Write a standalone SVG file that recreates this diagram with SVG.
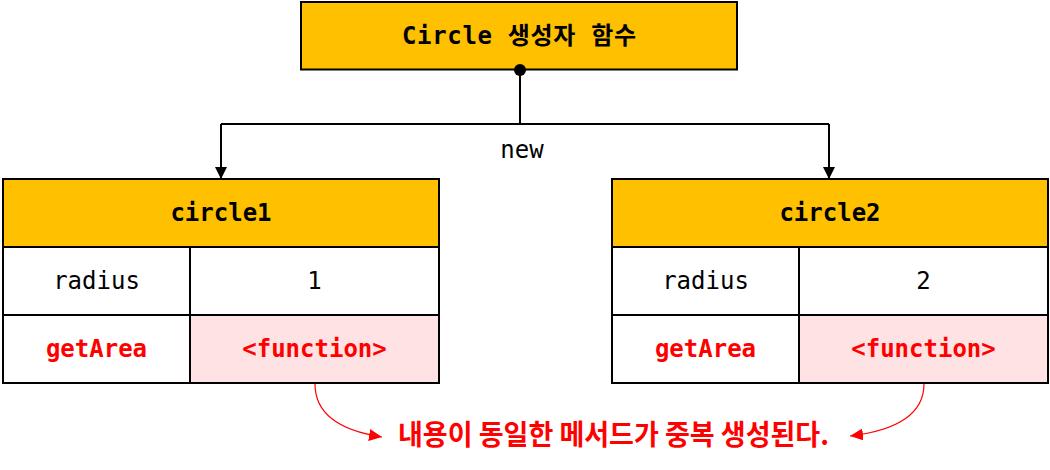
<svg xmlns="http://www.w3.org/2000/svg" width="1050" height="470" viewBox="0 0 1050 470">
  <defs>
    <marker id="arrowBlack" viewBox="0 0 12 12" refX="12" refY="6" markerWidth="12" markerHeight="12" markerUnits="userSpaceOnUse" orient="auto">
      <path d="M0,0 L12,6 L0,12 z" fill="#000"/>
    </marker>
    <marker id="arrowRed" viewBox="0 0 13 12" refX="13" refY="6" markerWidth="13" markerHeight="12" markerUnits="userSpaceOnUse" orient="auto">
      <path d="M0,0 L13,6 L0,12 z" fill="#ff0000"/>
    </marker>
    <style>
      .amber { fill: #ffc000; stroke: #000; stroke-width: 2; }
      .cell { fill: #ffffff; stroke: #000; stroke-width: 2; }
      .pink { fill: #ffe3e4; stroke: #000; stroke-width: 2; }
      .mono { font-family: "DejaVu Sans Mono", "Liberation Mono", "Noto Sans CJK KR", monospace; font-size: 24px; text-anchor: middle; }
      .bold { font-weight: bold; }
      .red { fill: #ff0000; }
      .conn { fill: none; stroke: #000; stroke-width: 2; }
      .rconn { fill: none; stroke: #ff0000; stroke-width: 1.2; }
      .note { font-family: "Noto Sans CJK KR", "Noto Sans", sans-serif; font-size: 28px; font-weight: bold; fill: #ff0000; text-anchor: middle; }
    </style>
  </defs>

  <g id="constructor">
    <rect class="amber" x="301" y="2" width="436" height="67.5"/>
    <text class="mono bold" x="519" y="44" textLength="234" lengthAdjust="spacing">Circle 생성자 함수</text>
  </g>

  <g id="circle1">
    <rect class="amber" x="3" y="179" width="436" height="68"/>
    <rect class="cell" x="3" y="247" width="187" height="68"/>
    <rect class="cell" x="190" y="247" width="249" height="68"/>
    <rect class="cell" x="3" y="315" width="187" height="68"/>
    <rect class="pink" x="190" y="315" width="249" height="68"/>
    <text class="mono bold" x="221" y="221">circle1</text>
    <text class="mono" x="96.5" y="289">radius</text>
    <text class="mono" x="314.5" y="289">1</text>
    <text class="mono bold red" x="96.5" y="357">getArea</text>
    <text class="mono bold red" x="314.5" y="357">&lt;function&gt;</text>
  </g>

  <g id="circle2">
    <rect class="amber" x="612" y="179" width="436" height="68"/>
    <rect class="cell" x="612" y="247" width="187" height="68"/>
    <rect class="cell" x="799" y="247" width="249" height="68"/>
    <rect class="cell" x="612" y="315" width="187" height="68"/>
    <rect class="pink" x="799" y="315" width="249" height="68"/>
    <text class="mono bold" x="830" y="221">circle2</text>
    <text class="mono" x="705.5" y="289">radius</text>
    <text class="mono" x="923.5" y="289">2</text>
    <text class="mono bold red" x="705.5" y="357">getArea</text>
    <text class="mono bold red" x="923.5" y="357">&lt;function&gt;</text>
  </g>

  <g id="note">
    <text class="note" x="613.5" y="445" textLength="431" lengthAdjust="spacingAndGlyphs">내용이 동일한 메서드가 중복 생성된다.</text>
  </g>

  <g id="connectors">
    <path class="conn" d="M520,70 V124"/>
    <path class="conn" d="M221,124 H829"/>
    <path class="conn" d="M221,124 V179" marker-end="url(#arrowBlack)"/>
    <path class="conn" d="M829,124 V179" marker-end="url(#arrowBlack)"/>
    <circle cx="520" cy="70" r="6" fill="#000"/>
    <text class="mono" x="522" y="158">new</text>
    <path class="rconn" d="M315,384 C315,412 336,430 382,437" marker-end="url(#arrowRed)"/>
    <path class="rconn" d="M924,384 C924,412 900,430 850,436" marker-end="url(#arrowRed)"/>
  </g>
</svg>
